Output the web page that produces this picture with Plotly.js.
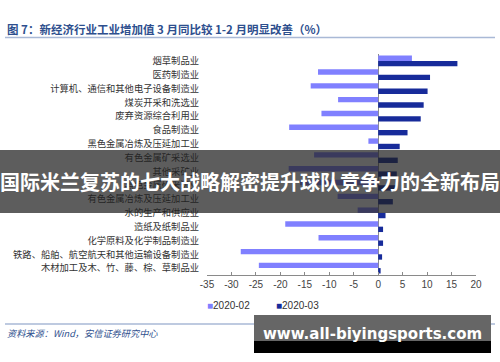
<!DOCTYPE html>
<html>
<head>
<meta charset="utf-8">
<script src="https://cdn.plot.ly/plotly-3.0.1.min.js"></script>
<style>html,body{margin:0;padding:0;background:#fff;}#chart{width:500px;height:362px;}</style>
</head>
<body>
<div id="chart"></div>
<script>
// Data
const categories = [
  "烟草制品业",
  "医药制造业",
  "计算机、通信和其他电子设备制造业",
  "煤炭开采和洗选业",
  "废弃资源综合利用业",
  "食品制造业",
  "黑色金属冶炼及压延加工业",
  "有色金属矿采选业",
  "其他采矿业",
  "黑色金属矿采选业",
  "有色金属冶炼及压延加工业",
  "水的生产和供应业",
  "造纸及纸制品业",
  "化学原料及化学制品制造业",
  "铁路、船舶、航空航天和其他运输设备制造业",
  "木材加工及木、竹、藤、棕、草制品业"
];
const feb2020 = [6.9, -12.3, -13.8, -8.2, -11.6, -18.2, -2.0, -13.1, -18.3, -16.0, -8.3, -4.2, -19.0, -12.2, -28.1, -24.4];
const mar2020 = [16.2, 10.6, 10.1, 9.3, 8.7, 6.0, 4.4, 4.0, 3.8, 3.7, 3.0, 1.5, 1.0, 1.0, 0.8, 0.5];
const seriesNames = ["2020-02", "2020-03"];
const xTicks = [-35, -30, -25, -20, -15, -10, -5, 0, 5, 10, 15, 20];

const W = 500, H = 362;
const M = {l: 207, r: 24, t: 54, b: 87};
const PW = W - M.l - M.r, PH = H - M.t - M.b;
const px = x => (x - M.l) / PW;
const py = y => (H - M.b - y) / PH;

const cLight = "#8080FF", cDark = "#172B9A";
const cjk = "'Noto Sans CJK SC', 'Noto Sans', sans-serif";

const traces = [
  {type: "bar", orientation: "h", name: seriesNames[0], y: categories, x: feb2020,
   marker: {color: cLight}, hoverinfo: "skip"},
  {type: "bar", orientation: "h", name: seriesNames[1], y: categories, x: mar2020,
   marker: {color: cDark}, hoverinfo: "skip"}
];

const layout = {
  width: W, height: H,
  margin: M,
  paper_bgcolor: "#fff", plot_bgcolor: "#fff",
  barmode: "group", bargap: 0.22, bargroupgap: 0,
  showlegend: false,
  font: {family: cjk, color: "#333"},
  xaxis: {
    range: [-35, 20], tickvals: xTicks, ticktext: xTicks.map(String),
    showgrid: false, showline: true, linecolor: "#8a8a8a", linewidth: 1,
    ticks: "inside", ticklen: 3, tickcolor: "#8a8a8a",
    zeroline: true, zerolinecolor: "#8a8a8a", zerolinewidth: 1,
    tickfont: {family: "'Liberation Sans', Arial, sans-serif", size: 10, color: "#444"},
    fixedrange: true
  },
  yaxis: {
    type: "category", autorange: "reversed",
    showgrid: false, showline: false, zeroline: false, ticks: "",
    ticklabelstandoff: 7,
    tickfont: {family: cjk, size: 9.3, color: "#333"},
    fixedrange: true
  },
  shapes: [
    {type: "line", xref: "paper", yref: "paper", x0: px(5), x1: px(495), y0: py(37.5), y1: py(37.5),
     line: {color: "#a9b9d6", width: 1.5}},
    {type: "line", xref: "paper", yref: "paper", x0: px(5), x1: px(495), y0: py(324), y1: py(324),
     line: {color: "#a9b9d6", width: 1.5}},
    {type: "rect", xref: "paper", yref: "paper", x0: px(0), x1: px(500), y0: py(150), y1: py(213),
     fillcolor: "rgba(30,30,30,0.72)", line: {width: 0}, layer: "above"},
    {type: "rect", xref: "paper", yref: "paper", x0: px(254), x1: px(491), y0: py(315), y1: py(341),
     fillcolor: "#666666", line: {width: 0}, layer: "above"},
    {type: "rect", xref: "paper", yref: "paper", x0: px(254), x1: px(491), y0: py(341), y1: py(353),
     fillcolor: "#000000", line: {width: 0}, layer: "above"}
  ],
  annotations: [
    {xref: "paper", yref: "paper", x: px(5), y: py(29), xanchor: "left", yanchor: "middle", showarrow: false,
     text: "<b>图 7：新经济行业工业增加值 3 月同比较 1-2 月明显改善（%）</b>",
     font: {family: cjk, size: 11.5, color: "#2E4F8E"}},
    {xref: "paper", yref: "paper", x: px(5), y: py(333), xanchor: "left", yanchor: "middle", showarrow: false,
     text: "<i>资料来源：Wind，安信证券研究中心</i>",
     font: {family: cjk, size: 9.2, color: "#2E4F8E"}},
    {xref: "paper", yref: "paper", x: px(205), y: py(305), xanchor: "left", yanchor: "middle", showarrow: false,
     text: "<span style='color:" + cLight + "'>■</span>" + seriesNames[0],
     font: {family: "'Liberation Sans', Arial, sans-serif", size: 10, color: "#333"}},
    {xref: "paper", yref: "paper", x: px(274), y: py(305), xanchor: "left", yanchor: "middle", showarrow: false,
     text: "<span style='color:" + cDark + "'>■</span>" + seriesNames[1],
     font: {family: "'Liberation Sans', Arial, sans-serif", size: 10, color: "#333"}},
    {xref: "paper", yref: "paper", x: px(250), y: py(181), xanchor: "center", yanchor: "middle", showarrow: false,
     text: "<b>国际米兰复苏的七大战略解密提升球队竞争力的全新布局</b>",
     font: {family: cjk, size: 20, color: "#ffffff"}},
    {xref: "paper", yref: "paper", x: px(372), y: py(334), xanchor: "center", yanchor: "middle", showarrow: false,
     text: "<b>www.all-biyingsports.com</b>",
     font: {family: "'DejaVu Sans', sans-serif", size: 15, color: "#ffffff"}}
  ]
};

Plotly.newPlot("chart", traces, layout, {staticPlot: true, displayModeBar: false});
</script>
</body>
</html>
